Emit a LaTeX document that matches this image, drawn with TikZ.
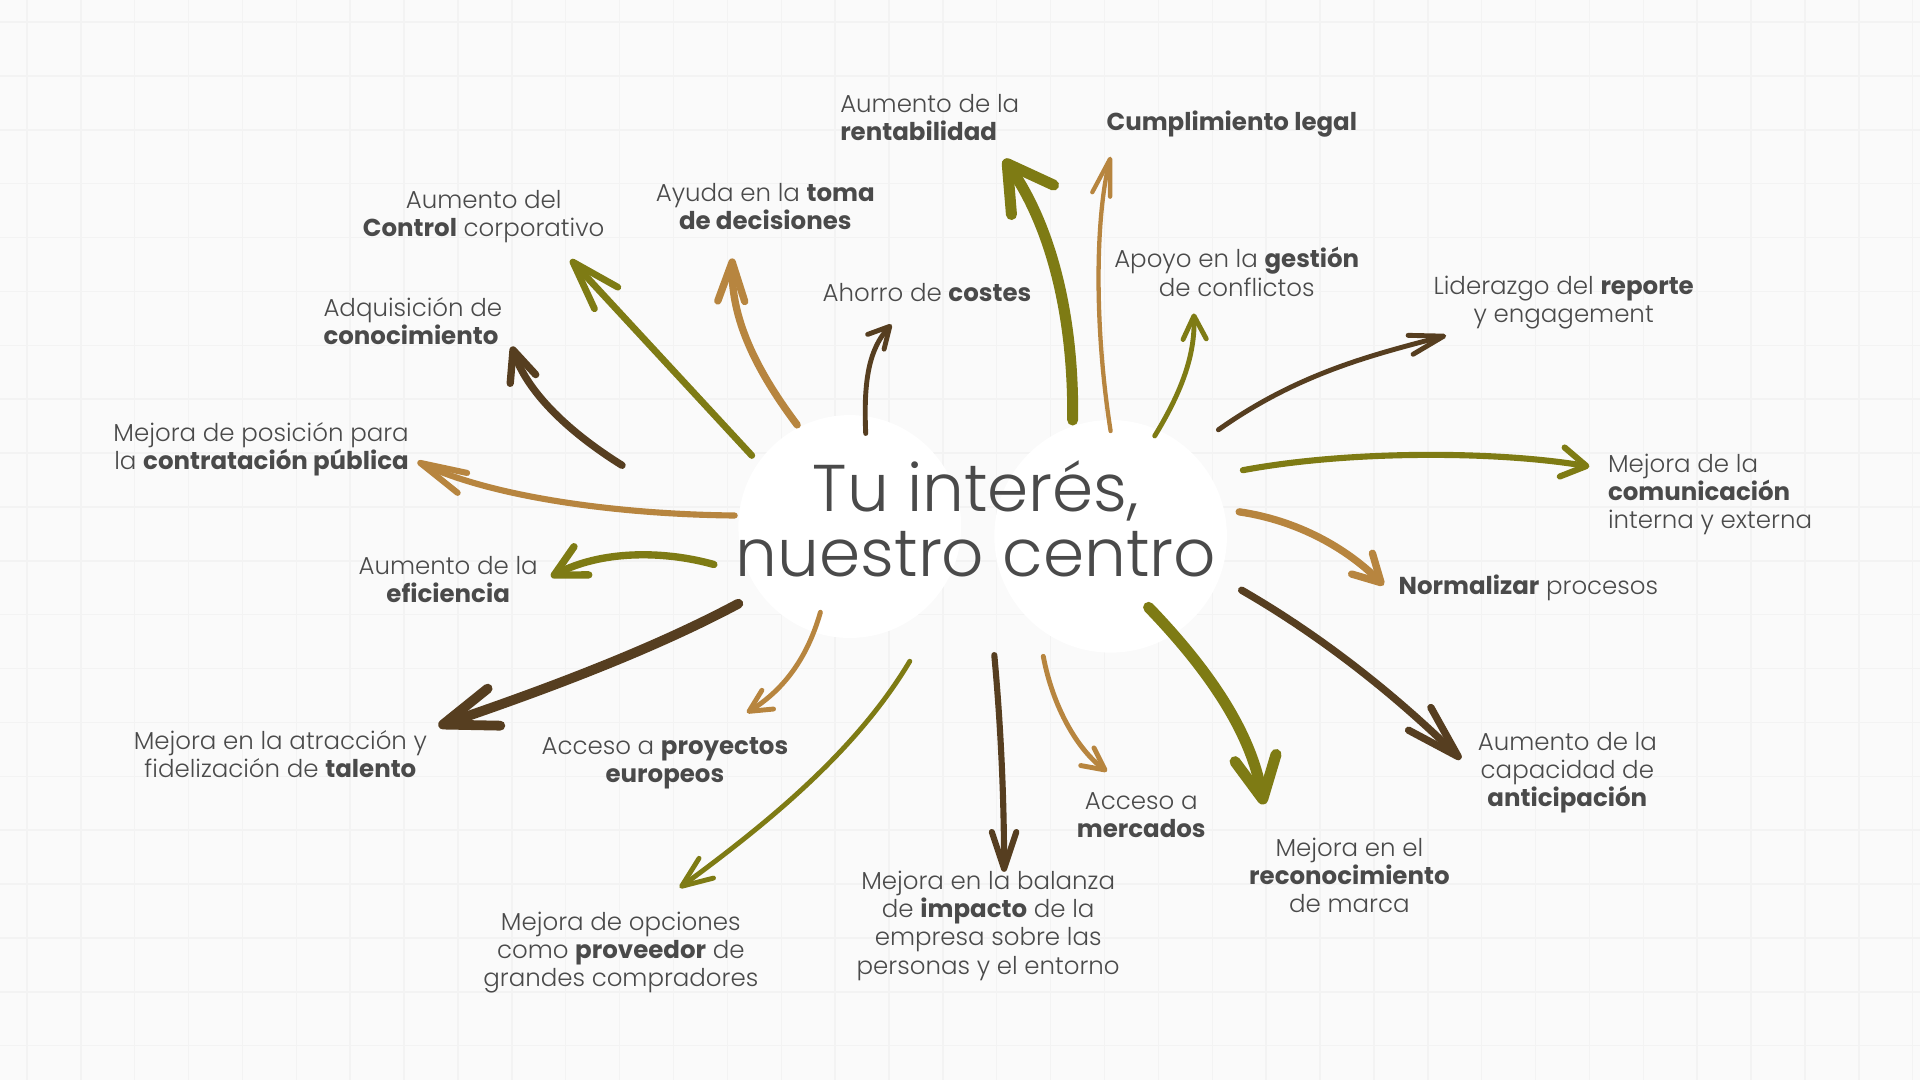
\documentclass[tikz,border=0pt]{standalone}
\usepackage{fontspec}
\setmainfont{Poppins}[UprightFont=* Light, BoldFont=* Bold]
\usetikzlibrary{arrows.meta}
\definecolor{colOlive}{HTML}{7E7B14}
\definecolor{colTan}{HTML}{B7853F}
\definecolor{colBrown}{HTML}{563E20}
\definecolor{colText}{HTML}{4A4A4A}
\definecolor{colBg}{HTML}{FAFAFA}
\definecolor{colGrid}{HTML}{F3F3F3}
\begin{document}
\begin{tikzpicture}[x=1pt,y=-1pt,
  lbl/.style={font=\fontsize{20}{23}\selectfont, text=colText, inner sep=0pt},
  aro/.style={draw=colOlive, line cap=round},
  art/.style={draw=colTan, line cap=round},
  arb/.style={draw=colBrown, line cap=round},
  hd/.style 2 args={-{Straight Barb[length=#1pt,width=#2pt,round]}},
  gridline/.style={draw=colGrid, line width=1.2pt},
  blob/.style={circle, fill=white, inner sep=0pt}]
\fill[colBg] (0,0) rectangle (1568,882);
\useasboundingbox (0,0) rectangle (1568,882);
\foreach \x in {22,66,...,1568} \draw[gridline] (\x,0) -- (\x,882);
\foreach \y in {18,62,...,882} \draw[gridline] (0,\y) -- (1568,\y);

% central blobs
\node[blob, minimum size=182pt] (cL) at (694,430) {};
\node[blob, minimum size=190pt] (cR) at (907,438) {};
\node[font=\fontsize{54}{53}\selectfont, text=colText, align=center, inner sep=0pt] (title) at (797,424) {Tu interés,\\nuestro centro};

% labels
\node[lbl, anchor=west, align=left] (l1) at (686,96) {Aumento de la\\\textbf{rentabilidad}};
\node[lbl] (l2) at (1006,101) {\textbf{Cumplimiento legal}};
\node[lbl, align=center] (l3) at (395,177) {Aumento del\\\textbf{Control} corporativo};
\node[lbl, align=center] (l4) at (625,169) {Ayuda en la \textbf{toma}\\\textbf{de decisiones}};
\node[lbl] (l5) at (757,239) {Ahorro de \textbf{costes}};
\node[lbl, align=center] (l6) at (1010,222) {Apoyo en la \textbf{gestión}\\de conflictos};
\node[lbl, align=center] (l7) at (1277,247) {Liderazgo del \textbf{reporte}\\y engagement};
\node[lbl, anchor=west, align=left] (l8) at (264,262) {Adquisición de\\\textbf{conocimiento}};
\node[lbl, anchor=east, align=right] (l9) at (334,367) {Mejora de posición para\\la \textbf{contratación pública}};
\node[lbl, anchor=west, align=left] (l10) at (1313,404) {Mejora de la\\\textbf{comunicación}\\interna y externa};
\node[lbl, anchor=west] (l11) at (1142,480) {\textbf{Normalizar} procesos};
\node[lbl, align=center] (l12) at (366,473) {Aumento de la\\\textbf{eficiencia}};
\node[lbl, align=center] (l13) at (229,616) {Mejora en la atracción y\\fidelización de \textbf{talento}};
\node[lbl, align=center] (l14) at (543,623) {Acceso a \textbf{proyectos}\\\textbf{europeos}};
\node[lbl, align=center] (l15) at (507,778) {Mejora de opciones\\como \textbf{proveedor} de\\grandes compradores};
\node[lbl, align=center] (l16) at (807,756) {Mejora en la balanza\\de \textbf{impacto} de la\\empresa sobre las\\personas y el entorno};
\node[lbl, align=center] (l17) at (932,666) {Acceso a\\\textbf{mercados}};
\node[lbl, align=center] (l18) at (1102,715) {Mejora en el\\\textbf{reconocimiento}\\de marca};
\node[lbl, align=center] (l19) at (1280,631) {Aumento de la\\capacidad de\\\textbf{anticipación}};

% connector end points
\coordinate (sA) at (876,343); \coordinate (eA) at (820,130);
\coordinate (sB) at (907,352); \coordinate (eB) at (907,128);
\coordinate (sC) at (614,372); \coordinate (eC) at (466,212);
\coordinate (sD) at (651,347); \coordinate (eD) at (598,211);
\coordinate (sE) at (707,354); \coordinate (eE) at (728,265);
\coordinate (sF) at (943,356); \coordinate (eF) at (975,256);
\coordinate (sG) at (995,351); \coordinate (eG) at (1181,274);
\coordinate (sH) at (508,380); \coordinate (eH) at (418,283);
\coordinate (sI) at (600,421); \coordinate (eI) at (341,377);
\coordinate (sJ) at (1015,384); \coordinate (eJ) at (1298,381);
\coordinate (sK) at (1012,418); \coordinate (eK) at (1130,478);
\coordinate (sL) at (583,461); \coordinate (eL) at (450,471);
\coordinate (sM) at (603,493); \coordinate (eM) at (358,593);
\coordinate (sN) at (670,500); \coordinate (eN) at (610,582);
\coordinate (sO) at (743,540); \coordinate (eO) at (555,725);
\coordinate (sP) at (812,535); \coordinate (eP) at (820,712);
\coordinate (sQ) at (852,536); \coordinate (eQ) at (904,630);
\coordinate (sR) at (938,496); \coordinate (eR) at (1032,657);
\coordinate (sS) at (1014,482); \coordinate (eS) at (1193,620);

% connectors
\draw[aro, line width=9pt, hd={36}{42}] (sA) .. controls (877,250) and (855,180) .. (eA);
\draw[art, line width=3.5pt, hd={30}{15}] (sB) .. controls (894,270) and (894,180) .. (eB);
\draw[aro, line width=5.5pt, hd={40}{26}] (sC) -- (eC);
\draw[art, line width=6pt, hd={32}{22}] (sD) .. controls (612,295) and (597,255) .. (eD);
\draw[arb, line width=4pt, hd={17}{18}] (sE) .. controls (705,310) and (710,285) .. (eE);
\draw[aro, line width=4pt, hd={19}{19}] (sF) .. controls (965,320) and (976,290) .. (eF);
\draw[arb, line width=4pt, hd={28}{16}] (sG) .. controls (1060,305) and (1120,290) .. (eG);
\draw[arb, line width=6pt, hd={25}{22}] (sH) .. controls (460,350) and (430,318) .. (eH);
\draw[art, line width=5pt, hd={38}{18}] (sI) .. controls (500,420) and (400,405) .. (eI);
\draw[aro, line width=5pt, hd={20}{24}] (sJ) .. controls (1100,368) and (1220,368) .. (eJ);
\draw[art, line width=6pt, hd={22}{24}] (sK) .. controls (1060,425) and (1100,448) .. (eK);
\draw[aro, line width=6pt, hd={25}{26}] (sL) .. controls (540,449) and (490,450) .. (eL);
\draw[arb, line width=8pt, hd={44}{32}] (sM) .. controls (530,532) and (440,565) .. (eM);
\draw[art, line width=4pt, hd={18}{18}] (sN) .. controls (660,535) and (642,562) .. (eN);
\draw[aro, line width=4pt, hd={25}{20}] (sO) .. controls (700,612) and (630,670) .. (eO);
\draw[arb, line width=5pt, hd={30}{20}] (sP) .. controls (818,600) and (820,660) .. (eP);
\draw[art, line width=4pt, hd={18}{18}] (sQ) .. controls (860,578) and (880,612) .. (eQ);
\draw[aro, line width=9pt, hd={34}{34}] (sR) .. controls (990,550) and (1022,600) .. (eR);
\draw[arb, line width=6pt, hd={44}{26}] (sS) .. controls (1080,520) and (1140,568) .. (eS);
\end{tikzpicture}
\end{document}
